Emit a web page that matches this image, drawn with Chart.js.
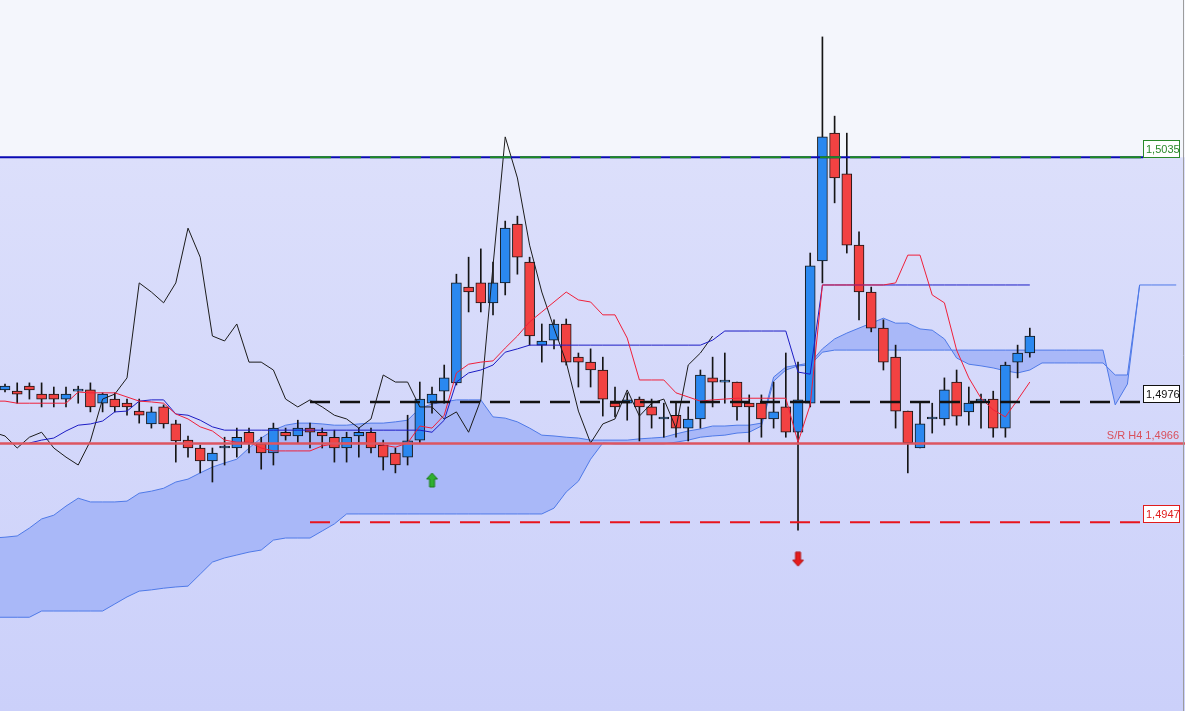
<!DOCTYPE html>
<html>
<head>
<meta charset="utf-8">
<script src="https://cdn.jsdelivr.net/npm/chart.js@4.4.0/dist/chart.umd.min.js"></script>
<style>
  html, body { margin: 0; padding: 0; background: #fff; }
  #wrap { width: 1185px; height: 711px; }
</style>
</head>
<body>
<div id="wrap"><canvas id="chart" width="1185" height="711"></canvas></div>
<script>
// candles, one per bar index 0..84
const opens = [1.49789, 1.49786, 1.49798, 1.49779, 1.49779, 1.49767, 1.49786, 1.49789, 1.49757, 1.49767,
  1.49757, 1.49738, 1.49707, 1.49748, 1.49707, 1.49668, 1.49649, 1.49618, 1.49649, 1.49649,
  1.49687, 1.49659, 1.49637, 1.49687, 1.49678, 1.49697, 1.49687, 1.49675, 1.49649, 1.49678,
  1.49687, 1.49656, 1.49637, 1.49627, 1.49668, 1.49757, 1.49786, 1.49806, 1.50037, 1.50047,
  1.49999, 1.50047, 1.50189, 1.50097, 1.49897, 1.49909, 1.49948, 1.49868, 1.49856, 1.49837,
  1.49757, 1.49757, 1.49767, 1.49748, 1.49719, 1.49728, 1.49697, 1.49719, 1.49818, 1.49808,
  1.49808, 1.49757, 1.49757, 1.49719, 1.49748, 1.49687, 1.49757, 1.50100, 1.50408, 1.50310,
  1.50138, 1.50025, 1.49938, 1.49868, 1.49738, 1.49649, 1.49719, 1.49719, 1.49808, 1.49736,
  1.49762, 1.49767, 1.49697, 1.49856, 1.49878];
const highs = [1.49803, 1.49806, 1.49806, 1.49806, 1.49796, 1.49796, 1.49798, 1.49806, 1.49782, 1.49782,
  1.49767, 1.49767, 1.49748, 1.49753, 1.49716, 1.49678, 1.49656, 1.49649, 1.49675, 1.49697,
  1.49697, 1.49675, 1.49709, 1.49697, 1.49716, 1.49709, 1.49697, 1.49692, 1.49687, 1.49697,
  1.49697, 1.49668, 1.49649, 1.49728, 1.49808, 1.49796, 1.49849, 1.50068, 1.50109, 1.50129,
  1.50097, 1.50196, 1.50208, 1.50109, 1.49948, 1.49958, 1.49960, 1.49878, 1.49888, 1.49868,
  1.49796, 1.49782, 1.49772, 1.49767, 1.49757, 1.49757, 1.49748, 1.49837, 1.49868, 1.49878,
  1.49808, 1.49777, 1.49777, 1.49808, 1.49878, 1.49856, 1.50119, 1.50640, 1.50449, 1.50408,
  1.50170, 1.50037, 1.49958, 1.49897, 1.49738, 1.49757, 1.49757, 1.49818, 1.49837, 1.49796,
  1.49779, 1.49786, 1.49856, 1.49897, 1.49938];
const lows = [1.49784, 1.49757, 1.49767, 1.49748, 1.49748, 1.49748, 1.49757, 1.49736, 1.49736, 1.49736,
  1.49728, 1.49709, 1.49697, 1.49697, 1.49615, 1.49627, 1.49589, 1.49567, 1.49608, 1.49627,
  1.49637, 1.49598, 1.49608, 1.49668, 1.49661, 1.49649, 1.49649, 1.49615, 1.49615, 1.49627,
  1.49637, 1.49596, 1.49589, 1.49608, 1.49661, 1.49733, 1.49757, 1.49801, 1.49977, 1.49977,
  1.49970, 1.50018, 1.50068, 1.49897, 1.49856, 1.49888, 1.49849, 1.49796, 1.49796, 1.49726,
  1.49724, 1.49716, 1.49666, 1.49697, 1.49675, 1.49675, 1.49666, 1.49697, 1.49748, 1.49757,
  1.49716, 1.49661, 1.49675, 1.49697, 1.49675, 1.49451, 1.49748, 1.50047, 1.50240, 1.50119,
  1.49958, 1.49929, 1.49837, 1.49697, 1.49589, 1.49649, 1.49685, 1.49704, 1.49704, 1.49704,
  1.49697, 1.49675, 1.49675, 1.49818, 1.49868];
const closes = [1.49798, 1.49779, 1.49789, 1.49767, 1.49767, 1.49779, 1.49786, 1.49748, 1.49779, 1.49748,
  1.49748, 1.49728, 1.49736, 1.49707, 1.49666, 1.49649, 1.49618, 1.49637, 1.49649, 1.49675,
  1.49661, 1.49637, 1.49697, 1.49678, 1.49697, 1.49687, 1.49678, 1.49649, 1.49675, 1.49687,
  1.49649, 1.49627, 1.49608, 1.49666, 1.49767, 1.49779, 1.49818, 1.50047, 1.50025, 1.49999,
  1.50047, 1.50179, 1.50109, 1.49919, 1.49907, 1.49948, 1.49856, 1.49856, 1.49837, 1.49767,
  1.49748, 1.49765, 1.49748, 1.49728, 1.49719, 1.49697, 1.49719, 1.49825, 1.49808, 1.49808,
  1.49748, 1.49748, 1.49719, 1.49736, 1.49687, 1.49765, 1.50088, 1.50399, 1.50300, 1.50138,
  1.50025, 1.49938, 1.49856, 1.49738, 1.49661, 1.49707, 1.49719, 1.49789, 1.49726, 1.49757,
  1.49767, 1.49697, 1.49849, 1.49878, 1.49919];

// ichimoku lines; tenkan, spanA and spanB start one bar left of the first candle (index -1)
const tenkan = [1.49762, 1.49762, 1.49757, 1.49757, 1.49757, 1.49757, 1.49757, 1.49784, 1.49782, 1.49782, 1.49782,
  1.49772, 1.49762, 1.49760, 1.49757, 1.49731, 1.49719, 1.49700, 1.49690, 1.49668, 1.49663,
  1.49663, 1.49649, 1.49642, 1.49642, 1.49642, 1.49642, 1.49654, 1.49659, 1.49661, 1.49661,
  1.49661, 1.49656, 1.49651, 1.49661, 1.49702, 1.49697, 1.49728, 1.49830, 1.49851, 1.49856,
  1.49859, 1.49890, 1.49919, 1.49953, 1.49977, 1.50001, 1.50025, 1.50006, 1.50001, 1.49970,
  1.49970, 1.49914, 1.49813, 1.49813, 1.49813, 1.49782, 1.49772, 1.49762, 1.49765, 1.49767,
  1.49769, 1.49769, 1.49769, 1.49769, 1.49769, 1.49663, 1.49753, 1.50042, 1.50042, 1.50042,
  1.50042, 1.50042, 1.50042, 1.50047, 1.50114, 1.50114, 1.50018, 1.49999, 1.49885, 1.49818,
  1.49769, 1.49741, 1.49724, 1.49765, 1.49808];
const kijun = [null, null, 1.49661, 1.49668, 1.49673, 1.49690, 1.49704, 1.49707, 1.49714, 1.49736,
  1.49738, 1.49762, 1.49765, 1.49765, 1.49731, 1.49728, 1.49716, 1.49700, 1.49692, 1.49692,
  1.49692, 1.49692, 1.49692, 1.49692, 1.49692, 1.49692, 1.49692, 1.49692, 1.49692, 1.49692,
  1.49692, 1.49692, 1.49692, 1.49692, 1.49692, 1.49687, 1.49716, 1.49808, 1.49830, 1.49837,
  1.49849, 1.49880, 1.49888, 1.49897, 1.49897, 1.49897, 1.49897, 1.49897, 1.49897, 1.49897,
  1.49897, 1.49897, 1.49897, 1.49897, 1.49897, 1.49897, 1.49897, 1.49897, 1.49909, 1.49931,
  1.49931, 1.49931, 1.49931, 1.49931, 1.49931, 1.49832, 1.49827, 1.50042, 1.50042, 1.50042,
  1.50042, 1.50042, 1.50042, 1.50042, 1.50042, 1.50042, 1.50042, 1.50042, 1.50042, 1.50042,
  1.50042, 1.50042, 1.50042, 1.50042, 1.50042];
const spanA = [1.49432, 1.49434, 1.49437, 1.49456, 1.49478, 1.49487, 1.49509, 1.49528, 1.49519, 1.49519, 1.49519,
  1.49521, 1.49540, 1.49545, 1.49552, 1.49567, 1.49574, 1.49589, 1.49603, 1.49613, 1.49622,
  1.49649, 1.49673, 1.49692, 1.49704, 1.49709, 1.49709, 1.49707, 1.49704, 1.49704, 1.49707,
  1.49709, 1.49709, 1.49712, 1.49716, 1.49745, 1.49755, 1.49760, 1.49765, 1.49765, 1.49765,
  1.49724, 1.49721, 1.49712, 1.49697, 1.49680, 1.49678, 1.49675, 1.49673, 1.49668, 1.49668,
  1.49668, 1.49668, 1.49671, 1.49673, 1.49675, 1.49683, 1.49690, 1.49695, 1.49702, 1.49702,
  1.49704, 1.49704, 1.49709, 1.49820, 1.49844, 1.49849, 1.49854, 1.49888, 1.49912, 1.49926,
  1.49938, 1.49950, 1.49962, 1.49950, 1.49950, 1.49936, 1.49933, 1.49912, 1.49866, 1.49851,
  1.49847, 1.49842, 1.49835, 1.49830, 1.49837, 1.49854, 1.49854, 1.49854, 1.49854, 1.49854,
  1.49854, 1.49825, 1.49825, 1.50042];
const spanB = [1.49241, 1.49241, 1.49241, 1.49241, 1.49256, 1.49256, 1.49256, 1.49256, 1.49256, 1.49256, 1.49273,
  1.49290, 1.49304, 1.49307, 1.49311, 1.49314, 1.49316, 1.49345, 1.49374, 1.49384, 1.49391,
  1.49398, 1.49403, 1.49427, 1.49432, 1.49432, 1.49432, 1.49449, 1.49466, 1.49490, 1.49490,
  1.49490, 1.49490, 1.49490, 1.49490, 1.49490, 1.49490, 1.49490, 1.49490, 1.49490, 1.49490,
  1.49490, 1.49490, 1.49490, 1.49490, 1.49490, 1.49504, 1.49543, 1.49569, 1.49622, 1.49661,
  1.49659, 1.49659, 1.49659, 1.49659, 1.49659, 1.49663, 1.49668, 1.49675, 1.49678, 1.49680,
  1.49685, 1.49687, 1.49702, 1.49810, 1.49837, 1.49847, 1.49849, 1.49880, 1.49885, 1.49885,
  1.49885, 1.49885, 1.49885, 1.49885, 1.49885, 1.49885, 1.49885, 1.49885, 1.49885, 1.49885,
  1.49885, 1.49885, 1.49885, 1.49885, 1.49885, 1.49885, 1.49885, 1.49885, 1.49885, 1.49885,
  1.49885, 1.49753, 1.49803, 1.50042, 1.50042, 1.50042, 1.50042];
// chikou = close drawn 26 bars back (from index -1)
const chikou = closes.slice(25);

// horizontal levels
const levels = [1.5035, 1.4976, 1.4966, 1.4947];
const levelTexts = ['1,5035', '1,4976', 'S/R H4 1,4966', '1,4947'];
const arrowsUp = [[35, 1.49572]];
const arrowsDown = [[65, 1.49381]];

const X_MIN = -0.41, X_MAX = 96.72;
const LV_FROM = 25, LV_TO = 93.3;

const xy = (arr, from = 0) => arr.map((v, i) => ({ x: i + from, y: v }));
const seg = (v, a, b) => [{ x: a, y: v }, { x: b, y: v }];
const BLUE = '#2a88f0', RED = '#f24242';
const bull = closes.map((c, i) => c >= opens[i]);

function arrowImage(fill, edge, up) {
  const c = document.createElement('canvas');
  c.width = 13; c.height = 16;
  const g = c.getContext('2d');
  const pts = [[6.5, 1], [12, 7], [9, 7], [9, 15], [4, 15], [4, 7], [1, 7]];
  g.beginPath();
  pts.forEach(([px, py], k) => {
    const yy = up ? py : 16 - py;
    k ? g.lineTo(px, yy) : g.moveTo(px, yy);
  });
  g.closePath();
  g.fillStyle = fill; g.fill();
  g.strokeStyle = edge; g.lineWidth = 1; g.stroke();
  return c;
}

const background = {
  id: 'background',
  beforeDraw(chart) {
    const { ctx, width, height, scales: { y } } = chart;
    const split = y.getPixelForValue(levels[0]);
    ctx.save();
    ctx.fillStyle = '#f4f6fc';
    ctx.fillRect(0, 0, width, split);
    const g = ctx.createLinearGradient(0, split, 0, height);
    g.addColorStop(0, '#dcdffb');
    g.addColorStop(1, '#cbd0fa');
    ctx.fillStyle = g;
    ctx.fillRect(0, split, width, height - split);
    ctx.restore();
  }
};

const tags = {
  id: 'tags',
  afterDatasetsDraw(chart) {
    const { ctx, height, scales: { y } } = chart;
    const colors = ['#2a8a2a', '#111111', '#d9505c', '#e01c1c'];
    ctx.save();
    ctx.font = '11px "Liberation Sans", Arial, sans-serif';
    levels.forEach((v, k) => {
      const py = Math.round(y.getPixelForValue(v));
      ctx.fillStyle = colors[k];
      if (k === 2) {
        ctx.textAlign = 'right';
        ctx.textBaseline = 'alphabetic';
        ctx.fillText(levelTexts[k], 1179, py - 4);
        return;
      }
      ctx.fillStyle = '#ffffff';
      ctx.fillRect(1143.5, py - 16.5, 36, 17);
      ctx.strokeStyle = colors[k];
      ctx.lineWidth = 1;
      ctx.strokeRect(1143.5, py - 16.5, 36, 17);
      ctx.fillStyle = colors[k];
      ctx.textAlign = 'left';
      ctx.textBaseline = 'middle';
      ctx.fillText(levelTexts[k], 1146, py - 7.5);
    });
    ctx.strokeStyle = '#9c9c9c';
    ctx.beginPath();
    ctx.moveTo(1183.5, 0); ctx.lineTo(1183.5, height);
    ctx.stroke();
    ctx.restore();
  }
};

const lineDs = (data, color, extra) => Object.assign({
  type: 'line', data, borderColor: color, borderWidth: 1,
  pointRadius: 0, tension: 0, fill: false
}, extra);

new Chart(document.getElementById('chart'), {
  type: 'bar',
  data: {
    datasets: [
      lineDs(xy(spanA, -1), '#4f7ae8', { order: 21, fill: '+1', backgroundColor: '#a9b8f8' }),
      lineDs(xy(spanB, -1), '#4f7ae8', { order: 20 }),
      {
        type: 'bar', order: 11,
        data: lows.map((l, i) => ({ x: i, y: [l, highs[i]] })),
        backgroundColor: '#151515', barThickness: 1, grouped: false
      },
      {
        type: 'bar', order: 10,
        data: opens.map((o, i) => ({ x: i, y: [o, closes[i]] })),
        backgroundColor: bull.map(b => b ? BLUE : RED),
        borderColor: '#151515', borderWidth: 1, borderSkipped: false,
        barThickness: 10, minBarLength: 2, grouped: false
      },
      lineDs(xy(chikou, -1), '#1c1c1c', { order: 6 }),
      lineDs(xy(kijun), '#1c1cc4', { order: 5 }),
      lineDs(xy(tenkan, -1), '#f0203a', { order: 4 }),
      lineDs(seg(levels[0], X_MIN, LV_TO), '#0a0ab4', { order: 3, borderWidth: 2 }),
      lineDs(seg(levels[0], LV_FROM, LV_TO), '#1e8c1e', { order: 2, borderWidth: 2, borderDash: [21, 9] }),
      lineDs(seg(levels[1], LV_FROM, LV_TO), '#111111', { order: 2, borderWidth: 2.5, borderDash: [20, 10] }),
      lineDs(seg(levels[2], X_MIN, X_MAX), '#dd5560', { order: 2, borderWidth: 2.5 }),
      lineDs(seg(levels[3], LV_FROM, LV_TO), '#e8141c', { order: 2, borderWidth: 2, borderDash: [20, 10] }),
      lineDs(arrowsUp.map(([x, y]) => ({ x, y })), 'transparent',
        { order: 1, showLine: false, pointRadius: 8, pointStyle: arrowImage('#2fb02f', '#1b7a1b', true) }),
      lineDs(arrowsDown.map(([x, y]) => ({ x, y })), 'transparent',
        { order: 1, showLine: false, pointRadius: 8, pointStyle: arrowImage('#e51c1c', '#b01010', false) })
    ]
  },
  options: {
    responsive: false,
    animation: false,
    events: [],
    layout: { padding: 0, autoPadding: false },
    plugins: { legend: { display: false }, tooltip: { enabled: false } },
    scales: {
      x: { type: 'linear', min: X_MIN, max: X_MAX, offset: false, display: false },
      y: { type: 'linear', min: 1.49015, max: 1.50729, display: false }
    }
  },
  plugins: [background, tags]
});
</script>
</body>
</html>
